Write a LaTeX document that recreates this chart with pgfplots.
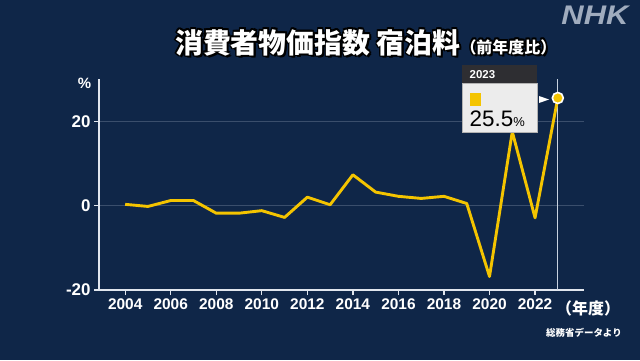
\documentclass[border=0pt]{standalone}
\usepackage{pgfplots}
\pgfplotsset{compat=1.18}
\usepackage{fontspec}
\setmainfont{Liberation Sans}
\newfontfamily\cjk{Noto Sans CJK JP}
\definecolor{bg}{RGB}{15,38,72}
\definecolor{gridc}{RGB}{58,78,108}
\definecolor{liney}{RGB}{244,196,0}
\definecolor{axc}{RGB}{225,230,238}
\definecolor{vline}{RGB}{200,210,224}
\definecolor{hdr}{RGB}{46,46,50}
\definecolor{boxc}{RGB}{236,236,236}
\definecolor{nhk}{RGB}{160,172,190}
\newcommand{\titletext}{{\cjk\bfseries\fontsize{28}{30}\selectfont 消費者物価指数 宿泊料\fontsize{16}{18}\selectfont（前年度比）}}
\begin{document}
\begin{tikzpicture}[x=1bp,y=1bp]
\fill[bg] (0,0) rectangle (640,360);
\begin{axis}[at={(99bp,70bp)}, anchor=south west, scale only axis,
  width=485bp, height=211bp,
  xmin=2002.85, xmax=2024.15, ymin=-20, ymax=30,
  axis lines*=left,
  axis line style={axc, line width=1.2bp, -},
  xtick={2004,2006,...,2022}, ytick={-20,0,20},
  tick style={axc, line width=1.2bp},
  tick align=outside, major tick length=5bp,
  ymajorgrids, grid style={gridc, line width=1bp},
  ticklabel style={font=\bfseries\fontsize{15.5}{16}\selectfont, text=white},
  yticklabel style={font=\bfseries\fontsize{17}{17}\selectfont},
  /pgf/number format/1000 sep={},
  /pgf/number format/assume math mode=true,
  clip=false,
]
\draw[vline, line width=1.3bp] (axis cs:2023,-20) -- (axis cs:2023,30);
\addplot[liney, line width=2.9bp, line join=round, mark=none] coordinates {
(2004,0.3) (2005,-0.2) (2006,1.2) (2007,1.2) (2008,-1.8) (2009,-1.8)
(2010,-1.2) (2011,-2.8) (2012,2.0) (2013,0.2) (2014,7.3) (2015,3.2)
(2016,2.2) (2017,1.7) (2018,2.2) (2019,0.5) (2020,-16.8) (2021,17.5)
(2022,-2.9) (2023,25.5)};
\addplot[only marks, mark=*, mark size=5.5bp, mark options={fill=liney, draw=white, line width=1.6bp}] coordinates {(2023,25.5)};
\end{axis}
% title with shadow
\foreach \dx/\dy in {1.5/0,-1.5/0,0/1.5,0/-1.5,1.2/1.2,-1.2/-1.2,1.2/-1.2,-1.2/1.2,2/-2}
  \node[anchor=base west, inner sep=0, text=black] at (175+\dx,307+\dy) {\titletext};
\node[anchor=base west, inner sep=0, text=white] at (175,307) {\titletext};
% NHK
\node[text=nhk, xscale=1.15, inner sep=0] at (595,345) {\bfseries\itshape\fontsize{27}{27}\selectfont NHK};
% percent
\node[text=white, inner sep=0] at (84.5,277) {\bfseries\fontsize{15}{15}\selectfont\%};
% nendo
\node[text=white, anchor=base west, inner sep=0] at (556,46) {\cjk\bfseries\fontsize{16}{16}\selectfont（年度）};
\node[text=white, anchor=base west, inner sep=0] at (546,24) {\cjk\bfseries\fontsize{9.5}{10}\selectfont 総務省データより};
% tooltip
\fill[hdr] (462,295) rectangle (537,277);
\fill[boxc, draw=gray!60, line width=0.5bp] (462,277) rectangle (537,228);
\node[anchor=west, inner sep=0, text=white] at (469.5,285.5) {\bfseries\fontsize{11.5}{12}\selectfont 2023};
\fill[liney] (470,267) rectangle (481,254);
\node[anchor=base west, inner sep=0, text=black] at (469.5,234) {\fontsize{22.5}{23}\selectfont 25.5{\fontsize{13}{13}\selectfont\%}};
\fill[white] (539,264) -- (549,260.5) -- (539,257) -- cycle;
\end{tikzpicture}
\end{document}
